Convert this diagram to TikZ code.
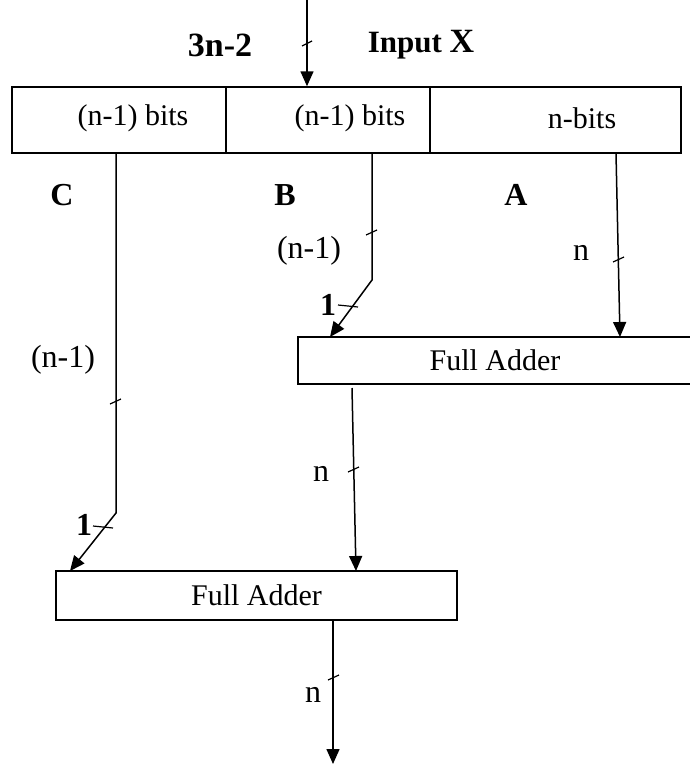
\documentclass[tikz,border=0pt]{standalone}
\usepackage{fontspec}
\setmainfont{Liberation Serif}
\usetikzlibrary{arrows.meta}
\begin{document}
\begin{tikzpicture}[x=1pt,y=-1pt,
  wire/.style={line width=1.5pt},
  arr/.style={line width=1.5pt,-{Triangle[length=15pt,width=13pt]}},
  slash/.style={line width=1.2pt},
  cell/.style={draw,line width=1.5pt,minimum height=66pt,inner sep=0pt},
  fa/.style={draw,line width=1.5pt,inner sep=0pt,font=\fontsize{30}{36}\selectfont},
  lbl/.style={font=\fontsize{32}{38}\selectfont,inner sep=0pt},
  blbl/.style={font=\fontsize{32}{38}\selectfont\bfseries,inner sep=0pt},
  ctext/.style={font=\fontsize{30}{36}\selectfont,inner sep=0pt}]
\useasboundingbox (0,0) rectangle (689,764);

% register
\node[cell,minimum width=214pt] (cell1) at (119,120) {};
\node[cell,minimum width=204pt] (cell2) at (328,120) {};
\node[cell,minimum width=251pt] (cell3) at (555.5,120) {};
\node[ctext] (t1) at (133,118) {(n-1) bits};
\node[ctext] (t2) at (350,118) {(n-1) bits};
\node[ctext] (t3) at (582,118) {n-bits};

% full adders
\node[fa,minimum width=394pt,minimum height=47pt] (fa1) at (495,360.5) {Full Adder};
\node[fa,minimum width=401pt,minimum height=49pt] (fa2) at (256.5,595.5) {Full Adder};

% labels
\node[font=\fontsize{34}{40}\selectfont\bfseries,inner sep=0pt] (l3n) at (220,45) {3n-2};
\node[inner sep=0pt] (linx) at (421,45) {\fontsize{31}{37}\selectfont\bfseries Input \fontsize{34}{40}\selectfont X};
\node[blbl] (lC) at (62,195) {C};
\node[blbl] (lB) at (285,195) {B};
\node[blbl] (lA) at (516,195) {A};
\node[lbl] (lbn1) at (309,251) {(n-1)};
\node[lbl] (lan) at (581,253) {n};
\node[blbl] (lb1) at (328,305) {1};
\node[lbl] (lcn1) at (63,360) {(n-1)};
\node[lbl] (lsn) at (321,474) {n};
\node[blbl] (lc1) at (84,525) {1};
\node[lbl] (lon) at (313,695) {n};

% connector points
\coordinate (inTop) at (307,0);
\coordinate (cTop) at (116,153);
\coordinate (cBend) at (116,513);
\coordinate (cEnd) at (70,571);
\coordinate (bTop) at (372,153);
\coordinate (bBend) at (372,280);
\coordinate (bEnd) at (330,337);
\coordinate (aTop) at (616,153);
\coordinate (aEnd) at (620,337);
\coordinate (sTop) at (352,388);
\coordinate (sEnd) at (356,571);
\coordinate (oTop) at (333,620);
\coordinate (oEnd) at (333,764);

% connectors
\draw[arr] (inTop) -- (inTop |- cell2.north);
\draw[arr] (cTop) -- (cBend) -- (cEnd);
\draw[arr] (bTop) -- (bBend) -- (bEnd);
\draw[arr] (aTop) -- (aEnd);
\draw[arr] (sTop) -- (sEnd);
\draw[arr] (oTop) -- (oEnd);

% bus width slashes
\draw[slash] (302,46) -- (312,41);
\draw[slash] (366,235) -- (377,230);
\draw[slash] (613,262) -- (624,257);
\draw[slash] (338,305) -- (358,307);
\draw[slash] (110,404) -- (121,399);
\draw[slash] (93,526) -- (113,528);
\draw[slash] (348,472) -- (359,467);
\draw[slash] (328,680) -- (339,675);
\end{tikzpicture}
\end{document}
